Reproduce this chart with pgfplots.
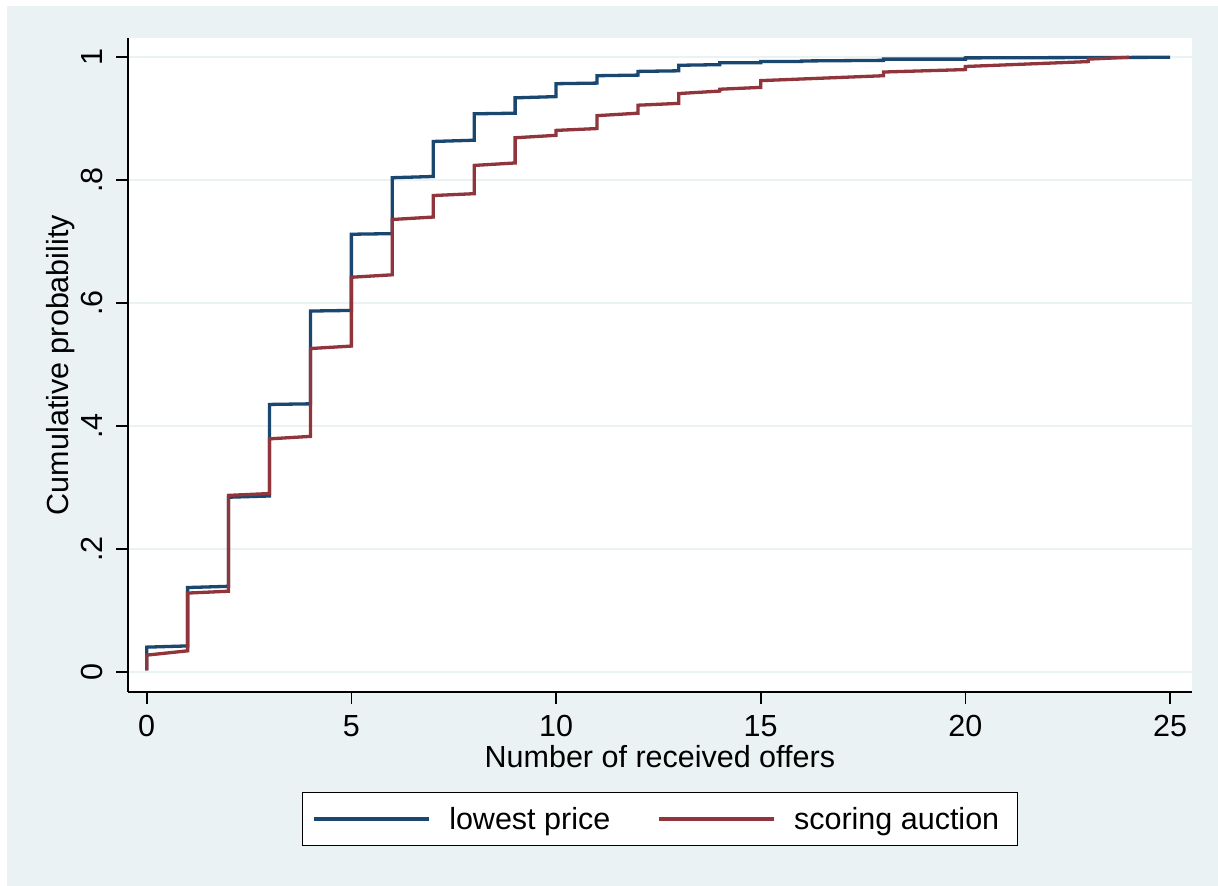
\documentclass[border=0pt]{standalone}
\usepackage{fontspec}
\setmainfont{Liberation Sans}
\usepackage{pgfplots}
\pgfplotsset{compat=1.18}
\definecolor{stnavy}{RGB}{26,71,111}
\definecolor{stmaroon}{RGB}{144,53,59}
\definecolor{stbg}{RGB}{234,242,243}
\newcommand{\fs}{\fontsize{30.5bp}{36bp}\selectfont}
\begin{document}
\begin{tikzpicture}[font=\fs]
\path[use as bounding box] (0,0) rectangle (1218bp,886bp);
\fill[white] (0,0) rectangle (1218bp,886bp);
\fill[stbg] (7bp,0) rectangle (1218bp,880bp);
\begin{axis}[
  at={(128bp,194bp)}, anchor=south west,
  scale only axis, width=1063.7bp, height=654bp,
  xmin=-0.457, xmax=25.53, ymin=-0.033, ymax=1.0314,
  axis background/.style={fill=white},
  axis x line*=bottom, axis y line*=left,
  axis line style={line width=1.6bp, black},
  xtick={0,5,10,15,20,25}, xticklabels={0,5,10,15,20,25},
  ytick={0,0.2,0.4,0.6,0.8,1}, yticklabels={0,.2,.4,.6,.8,1},
  tick align=outside, major tick length=12bp,
  tick style={line width=1.6bp, black},
  ymajorgrids, major grid style={line width=2bp, stbg},
  tick label style={font=\fs},
  xticklabel style={anchor=base, inner sep=0pt},
  yticklabel style={rotate=90, anchor=base, inner sep=0pt},
  xticklabel shift=33bp, yticklabel shift=14bp,
  xlabel={Number of received offers},
  ylabel={Cumulative probability},
  label style={font=\fs},
  xlabel style={at={(axis description cs:0.5,-0.1162)}, anchor=base, inner sep=0pt},
  ylabel style={at={(axis description cs:-0.0564,0.5)}, anchor=base, inner sep=0pt},
  legend columns=2,
  legend image code/.code={\draw[#1] (0bp,0bp) -- (115bp,0bp);},
  legend style={at={(0.5,-0.1529)}, anchor=north, draw=black, line width=1.4bp, fill=white,
    inner xsep=10bp, inner ysep=14.5bp, font=\fs, nodes={inner sep=0pt},
    /tikz/every odd column/.append style={column sep=18.5bp},
    /tikz/every even column/.append style={column sep=47bp}},
]
\addplot[stnavy, line width=3.3bp] coordinates {
(0,0.002)(0,0.040)(1,0.042)(1,0.137)(2,0.139)(2,0.284)(3,0.286)(3,0.435)(4,0.436)(4,0.587)(5,0.588)(5,0.712)(6,0.713)(6,0.804)(7,0.806)(7,0.863)(8,0.865)(8,0.908)(9,0.909)(9,0.934)(10,0.936)(10,0.957)(11,0.958)(11,0.970)(12,0.971)(12,0.977)(13,0.978)(13,0.987)(14,0.988)(14,0.991)(15,0.991)(15,0.993)(16,0.993)(16,0.994)(18,0.995)(18,0.997)(20,0.997)(20,0.999)(25,1.000)};
\addlegendentry{lowest price}
\addplot[stmaroon, line width=3.3bp] coordinates {
(0,0.002)(0,0.027)(1,0.034)(1,0.128)(2,0.131)(2,0.287)(3,0.290)(3,0.379)(4,0.383)(4,0.526)(5,0.530)(5,0.642)(6,0.646)(6,0.736)(7,0.740)(7,0.775)(8,0.778)(8,0.824)(9,0.828)(9,0.869)(10,0.873)(10,0.881)(11,0.884)(11,0.905)(12,0.909)(12,0.922)(13,0.925)(13,0.941)(14,0.945)(14,0.948)(15,0.951)(15,0.962)(18,0.970)(18,0.976)(20,0.980)(20,0.985)(23,0.993)(23,0.997)(24,1.000)};
\addlegendentry{scoring auction\kern8bp\relax}
\end{axis}
\end{tikzpicture}
\end{document}
